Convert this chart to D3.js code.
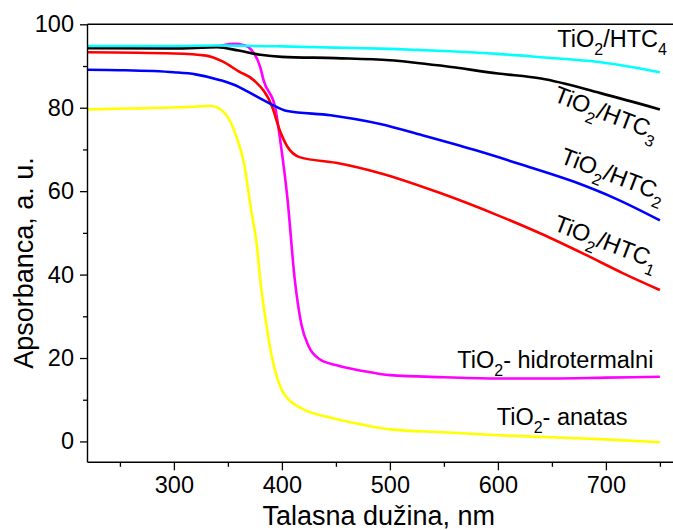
<!DOCTYPE html>
<html>
<head>
<meta charset="utf-8">
<script src="https://cdn.jsdelivr.net/npm/d3@7"></script>
<style>
  html, body { margin: 0; padding: 0; background: #fff; }
  svg { display: block; }
  text { font-family: "Liberation Sans", Arial, sans-serif; fill: #000; }
</style>
</head>
<body>
<svg id="chart" width="673" height="530"></svg>
<script>
// ---- data (wavelength nm, absorbance a.u.) ----
const wlHTC4 = [220, 300, 340, 400, 450, 500, 550, 600, 640, 695, 750];
const absHTC4 = [94.8, 94.8, 94.9, 94.7, 94.4, 94.1, 93.6, 92.9, 92.1, 90.9, 88.5];

const wlHTC3 = [220, 300, 340, 360, 380, 400, 450, 500, 550, 600, 640, 695, 750];
const absHTC3 = [94.3, 94.2, 94.5, 93.7, 92.7, 92.2, 91.9, 91.4, 90.0, 88.2, 87.0, 83.5, 79.6];

const wlHTC2 = [220, 250, 300, 320, 343, 360, 368, 389, 405, 445, 491, 530, 578, 624, 670, 710, 750];
const absHTC2 = [89.1, 89.0, 88.5, 88.0, 86.6, 85.0, 83.9, 81.0, 79.2, 78.2, 76.1, 73.4, 69.9, 66.2, 62.3, 58.1, 53.0];

const wlHTC1 = [220, 300, 330, 345, 360, 374, 391, 398, 405, 417, 450, 491, 546, 600, 639, 680, 716, 750];
const absHTC1 = [93.3, 93.0, 92.5, 91.1, 88.7, 86.6, 80.2, 74.6, 70.7, 68.1, 66.8, 64.3, 59.6, 54.2, 49.9, 44.9, 40.3, 36.3];

const wlHydro = [220, 300, 340, 355, 365, 372, 380, 383, 394, 398, 405, 412, 418, 425, 435, 450, 475, 500, 550, 600, 650, 700, 750];
const absHydro = [94.5, 94.5, 94.8, 95.3, 95.0, 93.8, 89.7, 86.6, 79.8, 73.0, 58.6, 38.6, 28.1, 22.7, 19.7, 18.3, 16.9, 15.9, 15.4, 15.1, 15.1, 15.3, 15.5];

const wlAnatas = [220, 260, 306, 334, 346, 358, 365, 371, 377, 380, 385, 390, 395, 400, 405, 410, 420, 450, 475, 500, 550, 600, 650, 700, 750];
const absAnatas = [79.6, 79.8, 80.1, 80.4, 79.0, 73.0, 66.6, 56.3, 46.6, 38.6, 29.1, 21.2, 15.8, 12.3, 10.4, 9.2, 7.7, 5.4, 4.0, 2.9, 2.2, 1.5, 1.0, 0.5, -0.2];

const seriesNames = ["TiO2- hidrotermalni", "TiO2- anatas", "TiO2/HTC1", "TiO2/HTC2", "TiO2/HTC3", "TiO2/HTC4"];
const seriesColors = ["#ff00ff", "#ffff00", "#ff0000", "#0000ff", "#000000", "#00ffff"];

const xMajorTicks = [300, 400, 500, 600, 700];
const xMinorTicks = [250, 350, 450, 550, 650, 750];
const yMajorTicks = [0, 20, 40, 60, 80, 100];
const yMinorTicks = [10, 30, 50, 70, 90];

const xTitle = "Talasna dužina, nm";
const yTitle = "Apsorbanca, a. u.";

// ---- layout ----
const svg = d3.select("#chart");
const plotLeft = 87.5, plotTop = 24.3, plotBottom = 462.3;
const x = d3.scaleLinear().domain([220, 770]).range([plotLeft, plotLeft + 550 * 1.08]);
const y = d3.scaleLinear().domain([-5, 100]).range([plotBottom, plotTop]);

const series = [
  { wl: wlHydro, v: absHydro },
  { wl: wlAnatas, v: absAnatas },
  { wl: wlHTC1, v: absHTC1 },
  { wl: wlHTC2, v: absHTC2 },
  { wl: wlHTC3, v: absHTC3 },
  { wl: wlHTC4, v: absHTC4 }
];

const line = d3.line()
  .x(d => x(d[0]))
  .y(d => y(d[1]))
  .curve(d3.curveMonotoneX);

series.forEach((s, i) => {
  svg.append("path")
    .attr("d", line(s.wl.map((w, k) => [w, s.v[k]])))
    .attr("fill", "none")
    .attr("stroke", seriesColors[i])
    .attr("stroke-width", 2.6)
    .attr("stroke-linejoin", "round");
});

// ---- axes ----
const axisFont = 23.5;
const xAxis = svg.append("g").attr("transform", `translate(0,${plotBottom})`)
  .call(d3.axisBottom(x).tickValues(xMajorTicks).tickSize(8).tickPadding(6).tickFormat(d3.format("d")));
xAxis.append("g").call(d3.axisBottom(x).tickValues(xMinorTicks).tickSize(4.5).tickFormat(""))
  .select(".domain").remove();

const yAxis = svg.append("g").attr("transform", `translate(${plotLeft},0)`)
  .call(d3.axisLeft(y).tickValues(yMajorTicks).tickSize(7.5).tickPadding(6).tickFormat(d3.format("d")));
yAxis.append("g").call(d3.axisLeft(y).tickValues(yMinorTicks).tickSize(4.5).tickFormat(""))
  .select(".domain").remove();

[xAxis, yAxis].forEach(g => {
  g.selectAll(".domain").attr("stroke", "#000").attr("stroke-width", 1.4);
  g.selectAll("line").attr("stroke", "#000").attr("stroke-width", 1.3);
  g.selectAll("text").attr("font-size", axisFont).attr("font-family", "Liberation Sans, Arial, sans-serif").attr("fill", "#000");
});
xAxis.select(".domain").attr("d", `M${plotLeft},0H${x(770)}`);
yAxis.select(".domain").attr("d", `M0,${plotTop}V${plotBottom}`);

// top border
svg.append("line")
  .attr("x1", plotLeft).attr("x2", 673).attr("y1", plotTop).attr("y2", plotTop)
  .attr("stroke", "#000").attr("stroke-width", 1.4);

// axis titles
svg.append("text")
  .attr("x", 378.7).attr("y", 524.5)
  .attr("text-anchor", "middle")
  .attr("font-size", 27)
  .text(xTitle);

svg.append("text")
  .attr("transform", "translate(33,263) rotate(-90)")
  .attr("text-anchor", "middle")
  .attr("font-size", 27)
  .text(yTitle);

// ---- series labels ----
function label(g, main, sub1, mid, sub2, fs) {
  const t = g.append("text").attr("font-size", fs);
  t.append("tspan").text(main);
  t.append("tspan").attr("font-size", fs * 0.68).attr("dy", 8).text(sub1);
  t.append("tspan").attr("dy", -8).text(mid);
  if (sub2) t.append("tspan").attr("font-size", fs * 0.68).attr("dy", 8).text(sub2);
  return t;
}
const lf = 23.5;
label(svg.append("g").attr("transform", "translate(557.3,47.3)"), "TiO", "2", "/HTC", "4", lf);

[["3", 605, 116.7], ["2", 611.7, 178.3], ["1", 605, 245.7]].forEach(([n, cx, cy]) => {
  const g = svg.append("g").attr("transform", `translate(${cx},${cy}) rotate(21)`);
  label(g, "TiO", "2", "/HTC", n, lf).attr("text-anchor", "middle").attr("y", 4);
});

label(svg.append("g").attr("transform", "translate(457.3,368.3)"), "TiO", "2", "- hidrotermalni", null, lf);
label(svg.append("g").attr("transform", "translate(496.7,425)"), "TiO", "2", "- anatas", null, lf);
</script>
</body>
</html>
